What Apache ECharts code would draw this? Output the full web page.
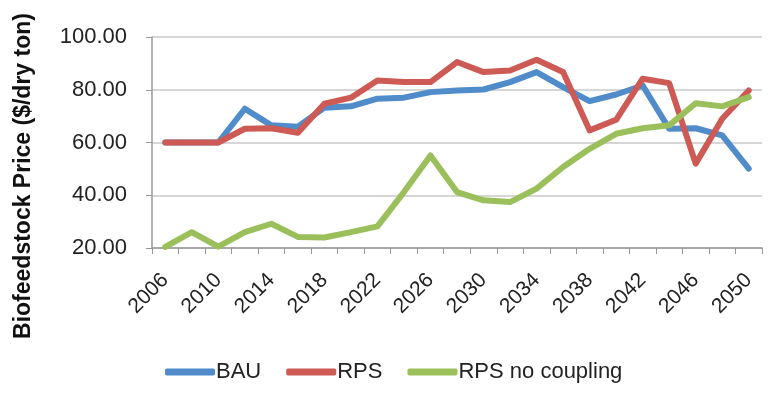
<!DOCTYPE html>
<html>
<head>
<meta charset="utf-8">
<script src="https://cdn.jsdelivr.net/npm/echarts@6/dist/echarts.min.js"></script>
<style>
  html, body { margin: 0; padding: 0; background: #fff; }
  #main { width: 783px; height: 402px; }
</style>
</head>
<body>
<div id="main"></div>
<script>
// years 2006..2050 step 2
const years = ['2006', '2008', '2010', '2012', '2014', '2016', '2018', '2020', '2022', '2024', '2026', '2028',
  '2030', '2032', '2034', '2036', '2038', '2040', '2042', '2044', '2046', '2048', '2050'];

const bau = [60, 60, 60, 72.8, 66.5, 66, 73.2, 73.7, 76.6, 77, 79.1, 79.7,
  80.1, 82.9, 86.7, 81, 75.7, 78.2, 81.6, 65.2, 65.4, 62.7, 50.1];

const rps = [60, 60, 60, 65.2, 65.4, 63.7, 74.7, 77, 83.5, 82.9, 82.9, 90.5,
  86.7, 87.3, 91.4, 86.7, 64.6, 68.6, 84.2, 82.5, 52, 69, 79.7];

const rpsNoCoupling = [20.4, 26, 20.5, 26, 29.2, 24.2, 24, 26, 28.2, 41.2, 55.1, 41.2,
  38.1, 37.4, 42.5, 50.7, 57.6, 63.3, 65.4, 66.5, 74.9, 73.7, 77.2];

const yTitle = 'Biofeedstock Price ($/dry ton)';

const font = '"Liberation Sans", Arial, sans-serif';

const chart = echarts.init(document.getElementById('main'));

function line(name, data, color) {
  return {
    name,
    type: 'line',
    data,
    symbol: 'none',
    lineStyle: { width: 6, color, cap: 'round', join: 'round' },
    itemStyle: { color },
    z: 3
  };
}

chart.setOption({
  animation: false,
  grid: { left: 152, right: 21, top: 37, bottom: 154 },
  graphic: [{
    type: 'text',
    x: 24,
    y: 176,
    rotation: Math.PI / 2,
    style: {
      text: yTitle,
      font: 'bold 23px "Liberation Sans", Arial, sans-serif',
      fill: '#111',
      align: 'center',
      verticalAlign: 'middle'
    }
  }],
  legend: {
    top: 356,
    left: 160,
    itemWidth: 50,
    itemHeight: 7,
    itemGap: 25,
    icon: 'roundRect',
    textStyle: { fontFamily: font, fontSize: 22, color: '#222', padding: [0, 0, 0, -4] },
    data: ['BAU', 'RPS', 'RPS no coupling']
  },
  xAxis: {
    type: 'category',
    data: years,
    boundaryGap: true,
    axisLine: { lineStyle: { color: '#999', width: 1.5 } },
    axisTick: { show: true, length: 6, interval: 0, lineStyle: { color: '#999' } },
    axisLabel: {
      interval: 1,
      rotate: 45,
      fontFamily: font,
      fontSize: 21,
      color: '#222',
      margin: 29
    }
  },
  yAxis: {
    type: 'value',
    min: 20,
    max: 100,
    interval: 20,
    axisLine: { show: true, lineStyle: { color: '#999', width: 1.5 } },
    axisTick: { show: true, length: 6, lineStyle: { color: '#999' } },
    splitLine: { lineStyle: { color: '#c8c8c8', width: 1.5 } },
    axisLabel: {
      formatter: v => v.toFixed(2),
      fontFamily: font,
      fontSize: 22,
      color: '#222',
      margin: 25,
      padding: [6, 0, 0, 0]
    }
  },
  series: [
    line('BAU', bau, '#4f8cc9'),
    line('RPS', rps, '#cd5a55'),
    line('RPS no coupling', rpsNoCoupling, '#9bbf5a')
  ]
});
</script>
</body>
</html>
